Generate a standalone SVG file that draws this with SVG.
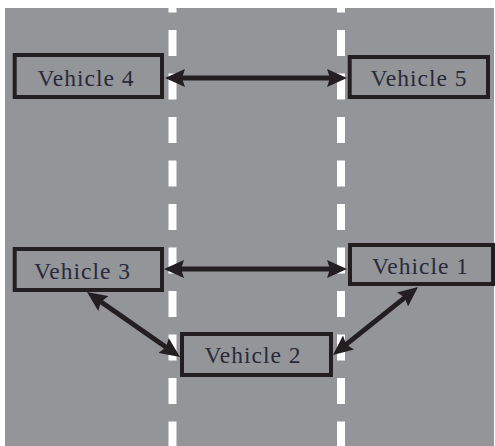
<svg xmlns="http://www.w3.org/2000/svg" width="495" height="446" viewBox="0 0 495 446">
  <style>
    .road { fill: #949599; }
    .lane { stroke: #ffffff; stroke-width: 8; stroke-dasharray: 26 17.5; fill: none; }
    .box { fill: none; stroke: #231f20; stroke-width: 4; }
    .label { font-family: "Liberation Serif", "Times New Roman", serif; font-size: 23.5px; letter-spacing: 1px; fill: #272a3a; text-anchor: middle; }
    .link { stroke: #231f20; stroke-width: 5; fill: none; marker-start: url(#head); marker-end: url(#head); }
  </style>
  <defs>
    <marker id="head" viewBox="0 0 20 18" refX="11" refY="9" markerWidth="20" markerHeight="18" markerUnits="userSpaceOnUse" orient="auto-start-reverse">
      <path d="M0,0 L20,9 L0,18 L3,9 z" fill="#231f20"/>
    </marker>
  </defs>

  <!-- road surface and lane markings -->
  <rect class="road" x="5" y="8" width="489" height="438"/>
  <line class="lane" x1="172.5" y1="-13.5" x2="172.5" y2="446"/>
  <line class="lane" x1="341" y1="-13.5" x2="341" y2="446"/>

  <!-- communication links -->
  <g id="connectors">
    <line class="link" x1="174" y1="78" x2="338" y2="78"/>
    <line class="link" x1="173" y1="269" x2="338" y2="269"/>
    <line class="link" x1="94.4" y1="297.2" x2="172.6" y2="351.8"/>
    <line class="link" x1="411" y1="292.6" x2="340" y2="349.4"/>
  </g>

  <g id="vehicle4">
    <rect class="box" x="14.7" y="55" width="147.3" height="42"/>
    <text class="label" x="86" y="86">Vehicle 4</text>
  </g>
  <g id="vehicle5">
    <rect class="box" x="349.7" y="57" width="138.3" height="40"/>
    <text class="label" x="419" y="86">Vehicle 5</text>
  </g>
  <g id="vehicle3">
    <rect class="box" x="14.7" y="249" width="147.3" height="41"/>
    <text class="label" x="82.5" y="279">Vehicle 3</text>
  </g>
  <g id="vehicle1">
    <rect class="box" x="350" y="245" width="143" height="39"/>
    <text class="label" x="420.5" y="274">Vehicle 1</text>
  </g>
  <g id="vehicle2">
    <rect class="box" x="182" y="334" width="149" height="41"/>
    <text class="label" x="253" y="363">Vehicle 2</text>
  </g>
</svg>
